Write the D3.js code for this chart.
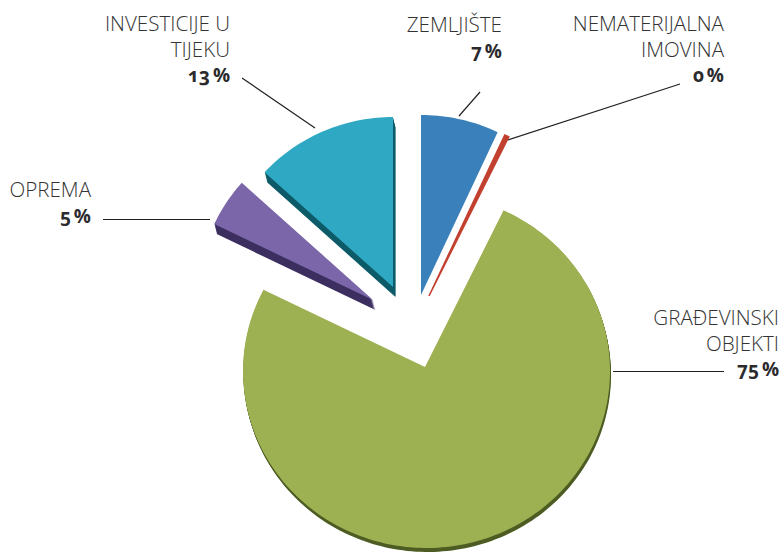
<!DOCTYPE html>
<html>
<head>
<meta charset="utf-8">
<title>Pie</title>
<script src="https://cdn.jsdelivr.net/npm/d3@7"></script>
<style>
html, body { margin: 0; background: #fff; }
text { font-family: "Open Sans", sans-serif; fill: #333; }
.name { font-size: 20.6px; font-weight: 300; }
.pct { font-size: 19px; font-weight: 700; fill: #2b2b2d; font-variant-numeric: oldstyle-nums; word-spacing: -2px; }
.leader { stroke: #222; stroke-width: 1.2px; fill: none; }
</style>
</head>
<body>
<script>
// clockwise from 12 o'clock
var categories = [["ZEMLJIŠTE"], ["NEMATERIJALNA", "IMOVINA"], ["GRAĐEVINSKI", "OBJEKTI"], ["OPREMA"], ["INVESTICIJE U", "TIJEKU"]];
var values = [7, 0.4, 74.7, 4.5, 13.4];
var colors = ["#3a80ba", "#c2402f", "#9db052", "#7a66a8", "#2fa9c3"];
var sideColors = ["#2a6a9c", "#8e2a20", "#4c5c22", "#3c2f60", "#0d5a68"];

// pulled-out position of every slice
var apex = [[421, 295], [429, 296], [425, 367], [373, 300], [393, 287]];
var rimCentre = [[421, 295], [429, 296], [426.5, 371], [373, 300], [393, 287]];
var rimRadius = [[180, 180], [178, 178], [183.5, 177], [176, 176], [174, 170]];
var depth = [0, 0, 4, 10, 10];
var outline = [0, 1.5, 0, 0, 0];

// label anchor (right edge, first baseline) and leader ends
var labelPos = [[502, 32], [724, 31], [779, 325], [91, 197], [230, 31]];
var lineHeight = 25.7;
var leaders = [[[480, 92], [459, 116]], [[680, 84], [508, 140]], [[613, 371.5], [724, 371.5]], [[103, 219.5], [210, 219.5]], [[242, 78], [315, 128]]];

var width = 783, height = 554;
var svg = d3.select("body").append("svg").attr("width", width).attr("height", height).style("display", "block");

var pie = d3.pie().sort(null)(values);

// ray from apex at pie angle, cut with the (tilted) rim ellipse
function rimPoint(i, a) {
  var dx = Math.sin(a), dy = -Math.cos(a);
  var ox = (apex[i][0] - rimCentre[i][0]) / rimRadius[i][0], oy = (apex[i][1] - rimCentre[i][1]) / rimRadius[i][1];
  var ux = dx / rimRadius[i][0], uy = dy / rimRadius[i][1];
  var A = ux * ux + uy * uy, B = 2 * (ox * ux + oy * uy), C = ox * ox + oy * oy - 1;
  var t = (-B + Math.sqrt(B * B - 4 * A * C)) / (2 * A);
  return [apex[i][0] + dx * t, apex[i][1] + dy * t];
}

function wedge(d, i) {
  var n = Math.ceil((d.endAngle - d.startAngle) * 40) + 1;
  var pts = [apex[i]];
  d3.range(n + 1).forEach(function(k) {
    pts.push(rimPoint(i, d.startAngle + (d.endAngle - d.startAngle) * k / n));
  });
  return d3.line().curve(d3.curveLinearClosed)(pts);
}

var slice = svg.selectAll("g.slice").data(pie).enter().append("g").attr("class", "slice");

slice.each(function(d, i) {
  var g = d3.select(this);
  g.selectAll("path.side").data(d3.range(1, depth[i] + 1)).enter().append("path")
    .attr("class", "side")
    .attr("d", wedge(d, i))
    .attr("fill", sideColors[i])
    .attr("transform", function(s) { return "translate(" + (s * 0.25) + "," + s + ")"; });
  g.append("path").attr("d", wedge(d, i)).attr("fill", colors[i])
    .attr("stroke", colors[i]).attr("stroke-width", outline[i]);
});

svg.selectAll("path.leader").data(leaders).enter().append("path")
  .attr("class", "leader")
  .attr("d", d3.line());

var label = svg.selectAll("text").data(categories).enter().append("text")
  .attr("text-anchor", "end")
  .attr("x", function(d, i) { return labelPos[i][0]; })
  .attr("y", function(d, i) { return labelPos[i][1]; });

label.each(function(d, i) {
  var t = d3.select(this);
  d.forEach(function(line, k) {
    t.append("tspan").attr("class", "name").attr("x", labelPos[i][0])
      .attr("y", labelPos[i][1] + k * lineHeight).text(line);
  });
  t.append("tspan").attr("class", "pct").attr("x", labelPos[i][0])
    .attr("y", labelPos[i][1] + d.length * lineHeight).text(Math.round(values[i]) + " %");
});
</script>
</body>
</html>
